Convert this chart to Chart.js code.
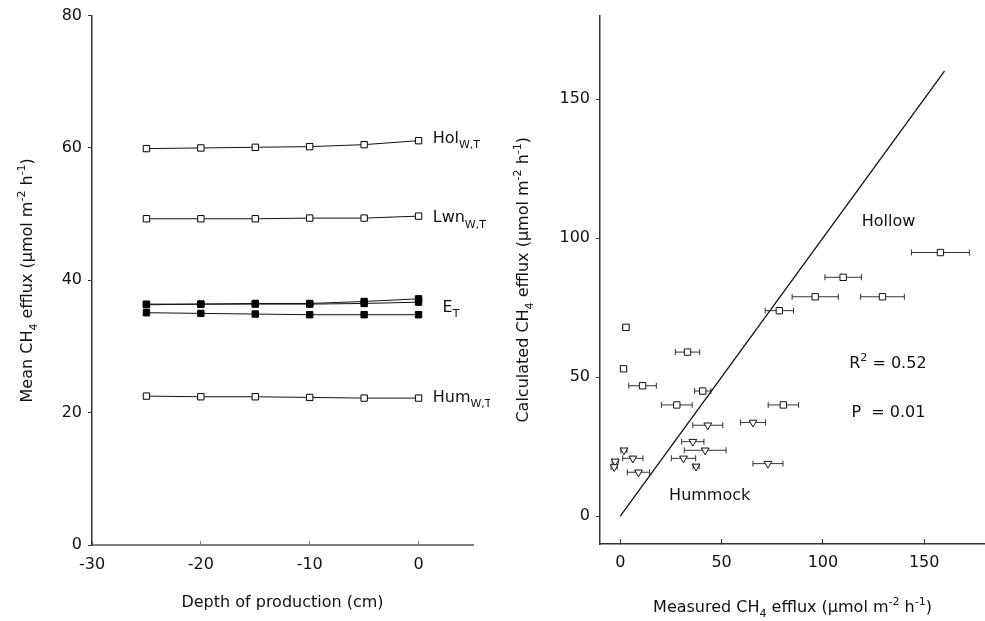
<!DOCTYPE html>
<html>
<head>
<meta charset="utf-8">
<script src="https://cdn.jsdelivr.net/npm/chart.js@4.4.1/dist/chart.umd.min.js"></script>
<style>
    html, body { margin: 0; padding: 0; background: #fff; overflow: hidden; }
    #wrap { position: relative; width: 985px; height: 621px; }
    canvas { position: absolute; top: 0; }
    #leftChart { left: 0; }
    #rightChart { left: 490px; }
</style>
</head>
<body>
<div id="wrap">
    <canvas id="leftChart" width="490" height="621"></canvas>
    <canvas id="rightChart" width="495" height="621"></canvas>
</div>
<script>
// Painel esquerdo: profundidade de produção vs fluxo médio
const depth = [-25, -20, -15, -10, -5, 0];
const holWT = [59.9, 60.0, 60.1, 60.2, 60.5, 61.1];
const lwnWT = [49.3, 49.3, 49.3, 49.4, 49.4, 49.7];
const eT1 = [36.4, 36.4, 36.5, 36.5, 36.8, 37.2];
const eT2 = [36.3, 36.4, 36.4, 36.4, 36.5, 36.7];
const eT3 = [35.1, 35.0, 34.9, 34.8, 34.8, 34.8];
const humWT = [22.5, 22.4, 22.4, 22.3, 22.2, 22.2];

// Painel direito: medido vs calculado
const hollowMeasured = [158, 110, 96.2, 129.4, 78.5, 2.8, 33.2, 1.6, 11, 40.7, 27.9, 80.5];
const hollowCalc = [94.8, 85.9, 78.9, 78.9, 73.9, 67.9, 59, 53, 46.9, 45, 40, 40];
const hollowErr = [14.3, 9, 11.4, 10.8, 7, 1.5, 6, 1.5, 6.8, 4, 7.6, 7.5];
const hummockMeasured = [43.2, 65.5, 35.8, 41.9, 1.8, 6.2, 31.2, -2.5, -3, 37.4, 72.9, 9];
const hummockCalc = [32.7, 33.7, 26.8, 23.7, 23.7, 20.8, 20.8, 19.7, 17.7, 17.9, 18.9, 15.8];
const hummockErr = [7.4, 6.2, 5.5, 10.3, 1.5, 5, 6, 1.5, 1.5, 1.5, 7.4, 5.5];
const oneToOne = [0, 160];

const FONT = '"DejaVu Sans", sans-serif';
const SIZE = 16;

function pts(xs, ys) {
    return xs.map((x, i) => ({ x: x, y: ys[i] }));
}

// texto com subscrito / sobrescrito
function drawRich(ctx, parts, x, y, align) {
    let w = 0;
    parts.forEach(p => {
        ctx.font = (p[1] ? Math.round(SIZE * 0.7) : SIZE) + 'px ' + FONT;
        w += ctx.measureText(p[0]).width;
    });
    let cx = align === 'center' ? x - w / 2 : x;
    parts.forEach(p => {
        ctx.font = (p[1] ? Math.round(SIZE * 0.7) : SIZE) + 'px ' + FONT;
        const dy = p[1] === 'sub' ? SIZE * 0.32 : p[1] === 'sup' ? -SIZE * 0.45 : 0;
        ctx.fillText(p[0], cx, y + dy);
        cx += ctx.measureText(p[0]).width;
    });
}

const richText = {
    id: 'richText',
    afterDraw(chart, args, opts) {
        const ctx = chart.ctx;
        const area = chart.chartArea;
        ctx.save();
        ctx.fillStyle = '#111';
        ctx.textBaseline = 'alphabetic';
        (opts.items || []).forEach(it => {
            let x, y;
            if (it.data) {
                x = chart.scales.x.getPixelForValue(it.data[0]);
                y = chart.scales.y.getPixelForValue(it.data[1]);
            } else if (it.axis === 'x') {
                x = (area.left + area.right) / 2;
                y = area.bottom + it.offset;
            } else {
                x = it.offset;
                y = (area.top + area.bottom) / 2;
            }
            if (it.axis === 'y') {
                ctx.save();
                ctx.translate(x, y);
                ctx.rotate(-Math.PI / 2);
                drawRich(ctx, it.parts, 0, 0, 'center');
                ctx.restore();
            } else {
                drawRich(ctx, it.parts, x, y, it.align || 'left');
            }
        });
        ctx.restore();
    }
};

function lineSet(ys, filled) {
    return {
        data: pts(depth, ys),
        showLine: true,
        borderColor: '#111',
        borderWidth: 1,
        pointStyle: 'rect',
        pointRadius: 4.5,
        pointBackgroundColor: filled ? '#000' : '#fff',
        pointBorderColor: '#000',
        pointBorderWidth: 1
    };
}

const tickFont = { family: FONT, size: SIZE };

new Chart(document.getElementById('leftChart'), {
    type: 'scatter',
    data: {
        datasets: [
            lineSet(holWT, false),
            lineSet(lwnWT, false),
            lineSet(eT1, true),
            lineSet(eT2, true),
            lineSet(eT3, true),
            lineSet(humWT, false)
        ]
    },
    options: {
        responsive: false,
        animation: false,
        layout: { autoPadding: false, padding: { top: 15, right: 17, left: 0, bottom: 0 } },
        plugins: {
            legend: { display: false },
            tooltip: { enabled: false },
            richText: {
                items: [
                    { data: [1.3, 60.7], parts: [['Hol'], ['W,T', 'sub']] },
                    { data: [1.3, 48.75], parts: [['Lwn'], ['W,T', 'sub']] },
                    { data: [2.2, 35.2], parts: [['E'], ['T', 'sub']] },
                    { data: [1.3, 21.6], parts: [['Hum'], ['W,T', 'sub']] },
                    { axis: 'x', offset: 62, parts: [['Depth of production (cm)']], align: 'center' },
                    { axis: 'y', offset: 32, parts: [['Mean CH'], ['4', 'sub'], [' efflux (\u03bcmol m'], ['-2', 'sup'], [' h'], ['-1', 'sup'], [')']] }
                ]
            }
        },
        scales: {
            x: {
                type: 'linear',
                min: -30,
                max: 5,
                afterFit(s) { s.height = 76; s.paddingRight = 0; },
                border: { color: '#808080', width: 2 },
                grid: { drawOnChartArea: false, color: '#808080', tickLength: -4 },
                ticks: { stepSize: 10, includeBounds: false, color: '#111', font: tickFont, padding: 14, maxRotation: 0 }
            },
            y: {
                min: 0,
                max: 80,
                afterFit(s) { s.width = 92; },
                border: { color: '#333', width: 1.5 },
                grid: { drawOnChartArea: false, color: '#333', tickLength: 4 },
                ticks: { stepSize: 20, color: '#111', font: tickFont, padding: 6 }
            }
        }
    },
    plugins: [richText]
});

// barras de erro horizontais
function errorBars(xs, ys, es) {
    return xs.map((x, i) => ({
        data: [{ x: x - es[i], y: ys[i] }, { x: x + es[i], y: ys[i] }],
        showLine: true,
        borderColor: '#333',
        borderWidth: 1,
        pointStyle: 'line',
        rotation: 90,
        pointRadius: 3,
        pointBorderColor: '#333',
        pointBorderWidth: 1,
        order: 2
    }));
}

new Chart(document.getElementById('rightChart'), {
    type: 'scatter',
    data: {
        datasets: [
            {
                data: pts(hollowMeasured, hollowCalc),
                pointStyle: 'rect',
                pointRadius: 4.5,
                pointBackgroundColor: '#fff',
                pointBorderColor: '#111',
                pointBorderWidth: 1,
                order: 0
            },
            {
                data: pts(hummockMeasured, hummockCalc),
                pointStyle: 'triangle',
                rotation: 180,
                pointRadius: 4.5,
                pointBackgroundColor: '#fff',
                pointBorderColor: '#111',
                pointBorderWidth: 1,
                order: 0
            },
            {
                data: pts(oneToOne, oneToOne),
                showLine: true,
                borderColor: '#111',
                borderWidth: 1.3,
                pointRadius: 0,
                order: 1
            },
            ...errorBars(hollowMeasured, hollowCalc, hollowErr),
            ...errorBars(hummockMeasured, hummockCalc, hummockErr)
        ]
    },
    options: {
        responsive: false,
        animation: false,
        layout: { autoPadding: false, padding: { top: 14, right: 0, left: 0, bottom: 0 } },
        plugins: {
            legend: { display: false },
            tooltip: { enabled: false },
            richText: {
                items: [
                    { data: [119.2, 104.4], parts: [['Hollow']] },
                    { data: [24.1, 6.0], parts: [['Hummock']] },
                    { data: [113, 53.2], parts: [['R'], ['2', 'sup'], [' = 0.52']] },
                    { data: [114.1, 35.6], parts: [['P  = 0.01']] },
                    { axis: 'x', offset: 68, parts: [['Measured CH'], ['4', 'sub'], [' efflux (\u03bcmol m'], ['-2', 'sup'], [' h'], ['-1', 'sup'], [')']], align: 'center' },
                    { axis: 'y', offset: 38, parts: [['Calculated CH'], ['4', 'sub'], [' efflux (\u03bcmol m'], ['-2', 'sup'], [' h'], ['-1', 'sup'], [')']] }
                ]
            }
        },
        scales: {
            x: {
                type: 'linear',
                min: -10,
                max: 180,
                afterFit(s) { s.height = 77; s.paddingRight = 0; },
                border: { color: '#333', width: 1.5 },
                grid: { drawOnChartArea: false, color: '#333', tickLength: -5 },
                ticks: { stepSize: 50, includeBounds: false, color: '#111', font: tickFont, padding: 14, maxRotation: 0 }
            },
            y: {
                min: -10,
                max: 180,
                afterFit(s) { s.width = 110; },
                border: { color: '#333', width: 1.5 },
                grid: { drawOnChartArea: false, color: '#333', tickLength: 4 },
                ticks: { stepSize: 50, includeBounds: false, color: '#111', font: tickFont, padding: 6 }
            }
        }
    },
    plugins: [richText]
});
</script>
</body>
</html>
